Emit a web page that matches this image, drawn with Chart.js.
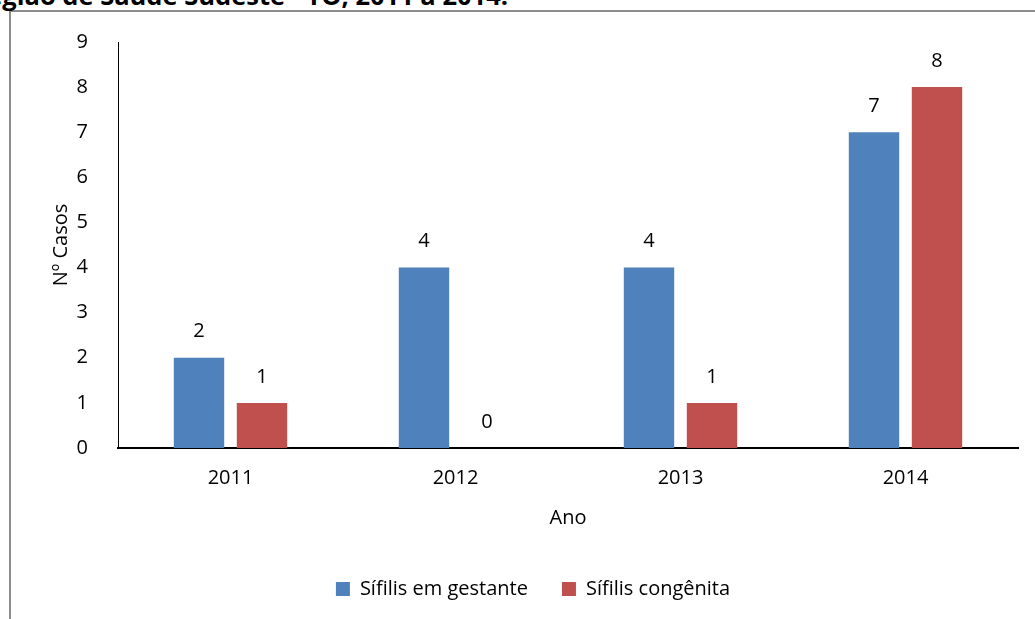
<!DOCTYPE html>
<html lang="pt-BR">
<head>
<meta charset="utf-8">
<title>Sífilis em gestante e congênita</title>
<script src="https://cdn.jsdelivr.net/npm/chart.js@4/dist/chart.umd.min.js"></script>
<style>
    html, body { margin: 0; padding: 0; background: #fff; overflow: hidden; }
    #page { position: relative; width: 1035px; height: 619px; overflow: hidden; }
    #frame {
        position: absolute; left: 9px; top: 10px; width: 1100px; height: 700px;
        border-left: 2px solid #8c8c8c; border-top: 2px solid #8c8c8c;
    }
    #heading {
        position: absolute; right: 527px; top: -18px;
        font: bold 25.5px "Open Sans", sans-serif; line-height: 26px;
        white-space: nowrap; color: #000;
    }
    #wrap { position: absolute; left: 0; top: 0; width: 1035px; height: 619px; }
</style>
</head>
<body>
<div id="page">
    <div id="frame"></div>
    <div id="heading">Região de Saúde Sudeste - TO, 2011 a 2014.</div>
    <div id="wrap"><canvas id="casosChart"></canvas></div>
</div>
<script>
// Cases per year
const anos = ['2011', '2012', '2013', '2014'];
const gestante = [2, 4, 4, 7];
const congenita = [1, 0, 1, 8];
const yMin = 0;
const yMax = 9;

const FONT = '"Open Sans", sans-serif';

// Writes the value above each bar and the "Ano" axis title
const valueLabels = {
    id: 'valueLabels',
    afterDatasetsDraw(chart) {
        const ctx = chart.ctx;
        const area = chart.chartArea;
        ctx.save();
        ctx.font = '20px ' + FONT;
        ctx.fillStyle = '#000';
        ctx.textAlign = 'center';
        ctx.textBaseline = 'middle';
        chart.data.datasets.forEach((ds, i) => {
            chart.getDatasetMeta(i).data.forEach((bar, j) => {
                ctx.fillText(String(ds.data[j]), bar.x, bar.y - 26);
            });
        });
        ctx.fillText('Ano', (area.left + area.right) / 2, area.bottom + 70);
        ctx.restore();
    }
};

const ctx = document.getElementById('casosChart').getContext('2d');
const casosChart = new Chart(ctx, {
    type: 'bar',
    data: {
        labels: anos,
        datasets: [
            {
                label: 'Sífilis em gestante',
                data: gestante,
                backgroundColor: '#4f81bd'
            },
            {
                label: 'Sífilis congênita',
                data: congenita,
                backgroundColor: '#c0504d'
            }
        ]
    },
    options: {
        responsive: true,
        maintainAspectRatio: false,
        animation: false,
        categoryPercentage: 0.56,
        barPercentage: 0.8,
        layout: {
            padding: { left: 48, right: 17, top: 40, bottom: 10 }
        },
        scales: {
            x: {
                grid: { display: false, drawTicks: false },
                border: { display: true, color: '#000', width: 2 },
                ticks: { color: '#000', padding: 18, font: { family: FONT, size: 20 } },
                afterFit(scale) { scale.height = 97; }
            },
            y: {
                min: yMin,
                max: yMax,
                grid: { display: false, drawTicks: false },
                border: { display: true, color: '#000', width: 1 },
                ticks: { stepSize: 1, color: '#000', padding: 30, font: { family: FONT, size: 20 } },
                title: {
                    display: true,
                    text: 'Nº Casos',
                    color: '#000',
                    padding: { top: 1, bottom: 0 },
                    font: { family: FONT, size: 20 }
                },
                afterFit(scale) { scale.width = 70; }
            }
        },
        plugins: {
            legend: {
                position: 'bottom',
                labels: {
                    color: '#000',
                    boxWidth: 14,
                    boxHeight: 14,
                    padding: 34,
                    font: { family: FONT, size: 20 }
                }
            },
            tooltip: { enabled: false }
        }
    },
    plugins: [valueLabels]
});
</script>
</body>
</html>
